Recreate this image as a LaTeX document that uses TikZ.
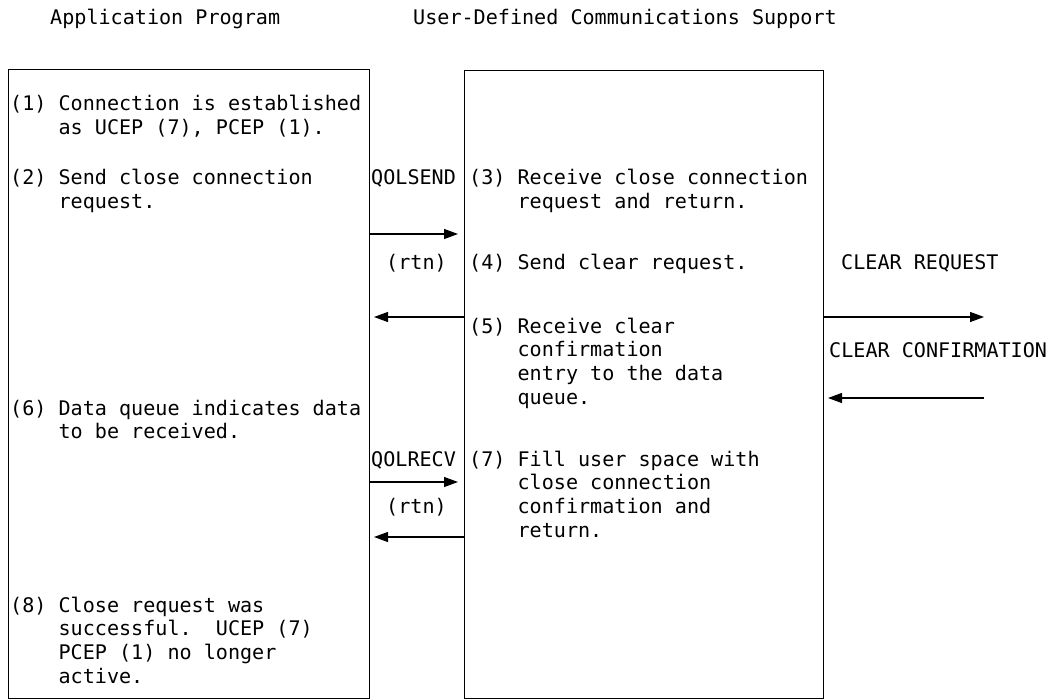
\documentclass[tikz,border=0pt]{standalone}
\usepackage{fontspec}
\setmonofont{DejaVu Sans Mono}
\usetikzlibrary{arrows.meta}
% body font: monospaced, 20.1pt on a 23.7pt line pitch
\newcommand\fs{\ttfamily\fontsize{20.1}{23.7}\selectfont\frenchspacing}
% hanging indent of four character cells
\newcommand\ind{\hspace*{2.408em}}
\newcommand\lines[1]{\begin{tabular}[t]{@{}l@{}}#1\end{tabular}}
\begin{document}
\begin{tikzpicture}[x=1pt,y=-1pt,
  box/.style={draw, line width=1.2pt, inner sep=0pt, anchor=north west},
  txt/.style={anchor=base west, inner sep=0pt, font=\fs},
  msg/.style={-{Triangle[length=14pt,width=10pt]}, line width=1.2pt}]
\useasboundingbox (0,0) rectangle (1056,700);

% column headings
\node[txt] (hApp) at (50,25) {Application Program};
\node[txt] (hUdc) at (413,25) {User-Defined Communications Support};

% the two participants
\node[box, minimum width=361pt, minimum height=629pt] (app) at (8,69) {};
\node[box, minimum width=359pt, minimum height=628pt] (udc) at (464,70) {};

% application program steps
\node[txt] (s1) at (10,111) {\lines{(1) Connection is established\\\ind as UCEP (7), PCEP (1).}};
\node[txt] (s2) at (10,185) {\lines{(2) Send close connection\\\ind request.}};
\node[txt] (s6) at (10,415) {\lines{(6) Data queue indicates data\\\ind to be received.}};
\node[txt] (s8) at (10,612) {\lines{(8) Close request was\\\ind successful.\ \ UCEP (7)\\\ind PCEP (1) no longer\\\ind active.}};

% communications support steps
\node[txt] (s3) at (469,185) {\lines{(3) Receive close connection\\\ind request and return.}};
\node[txt] (s4) at (469,270) {(4) Send clear request.};
\node[txt] (s5) at (469,333) {\lines{(5) Receive clear\\\ind confirmation\\\ind entry to the data\\\ind queue.}};
\node[txt] (s7) at (469,466) {\lines{(7) Fill user space with\\\ind close connection\\\ind confirmation and\\\ind return.}};

% message labels
\node[txt] (lSend) at (371,185) {QOLSEND};
\node[txt] (lRtn1) at (386,270) {(rtn)};
\node[txt] (lRecv) at (371,466) {QOLRECV};
\node[txt] (lRtn2) at (386,513) {(rtn)};
\node[txt] (lClrq) at (841,270) {CLEAR REQUEST};
\node[txt] (lClcf) at (829,357) {CLEAR CONFIRMATION};

% arrow end points
\coordinate (eSend) at (458,234);
\coordinate (eRtn1) at (374,317);
\coordinate (eRecv) at (458,482);
\coordinate (eRtn2) at (374,537);
\coordinate (eClrq) at (984,317);
\coordinate (oClcf) at (984,398);
\coordinate (eClcf) at (828,398);

% messages
\draw[msg] (app.east |- eSend) -- (eSend);
\draw[msg] (udc.west |- eRtn1) -- (eRtn1);
\draw[msg] (app.east |- eRecv) -- (eRecv);
\draw[msg] (udc.west |- eRtn2) -- (eRtn2);
\draw[msg] (udc.east |- eClrq) -- (eClrq);
\draw[msg] (oClcf) -- (eClcf);
\end{tikzpicture}
\end{document}
